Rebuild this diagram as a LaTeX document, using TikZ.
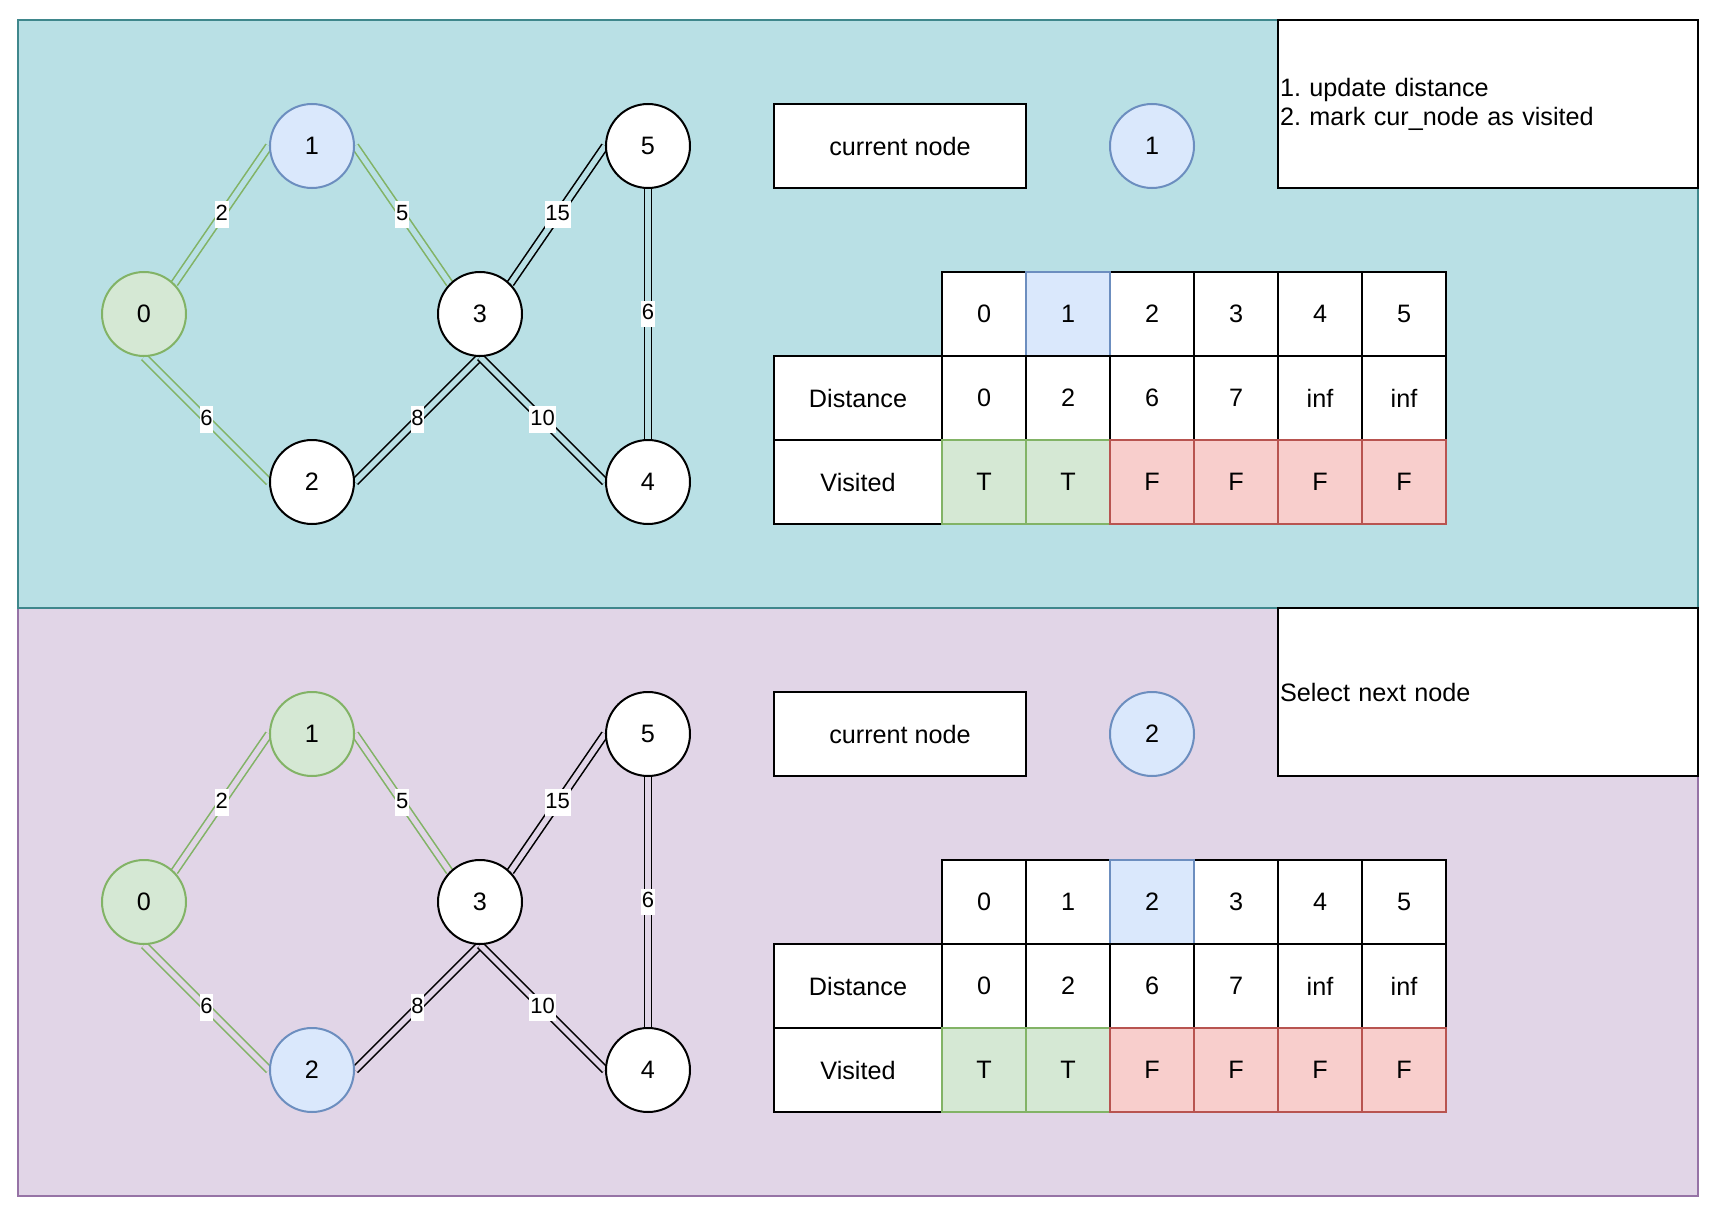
\documentclass[tikz,border=0pt]{standalone}
\usepackage{fontspec}
\setmainfont{Liberation Sans}
\frenchspacing

\definecolor{tealfill}{HTML}{B9E0E5}
\definecolor{tealline}{HTML}{3F878C}
\definecolor{lilacfill}{HTML}{E1D5E7}
\definecolor{lilacline}{HTML}{9673A6}
\definecolor{bluefill}{HTML}{DAE8FC}
\definecolor{blueline}{HTML}{6C8EBF}
\definecolor{greenfill}{HTML}{D5E8D4}
\definecolor{greenline}{HTML}{82B366}
\definecolor{redfill}{HTML}{F8CECC}
\definecolor{redline}{HTML}{B85450}

\pgfdeclarelayer{panels}
\pgfdeclarelayer{links}
\pgfsetlayers{panels,links,main}

\tikzset{
  txt/.style={font=\fontsize{12.6}{14.4}\selectfont},
  vertex/.style={txt, circle, draw=black, fill=white, line width=1pt,
    minimum size=42pt, inner sep=0pt},
  vgreen/.style={vertex, draw=greenline, fill=greenfill},
  vblue/.style={vertex, draw=blueline, fill=bluefill},
  labelbox/.style={txt, rectangle, draw=black, fill=white, line width=1pt,
    minimum width=126pt, minimum height=42pt, inner sep=0pt},
  notebox/.style={txt, rectangle, draw=black, fill=white, line width=1pt,
    minimum width=210pt, minimum height=84pt, text width=208pt,
    align=left, inner xsep=1pt, inner ysep=0pt},
  cell/.style={txt, rectangle, draw=black, fill=white, line width=1pt,
    minimum size=42pt, inner sep=0pt},
  widecell/.style={cell, minimum width=84pt},
  cblue/.style={cell, draw=blueline, fill=bluefill},
  cgreen/.style={cell, draw=greenline, fill=greenfill},
  cred/.style={cell, draw=redline, fill=redfill},
  klink/.style={draw=black, line width=0.8pt, double=#1, double distance=2.7pt},
  glink/.style={klink=#1, draw=greenline},
  elab/.style={fill=white, font=\fontsize{11}{12}\selectfont,
    inner xsep=0.4pt, inner ysep=1.2pt, text height=8.4pt, text depth=2.6pt},
}

\begin{document}
\begin{tikzpicture}[x=0.525pt, y=-0.525pt]
\useasboundingbox (-17.143,-19.048) rectangle (1624.762,1139.048);

% backgrounds of the two steps
\begin{pgfonlayer}{panels}
  \draw[draw=lilacline, fill=lilacfill, line width=1pt] (0,560) rectangle (1600,1120);
  \draw[draw=tealline, fill=tealfill, line width=1pt] (0,0) rectangle (1600,560);
\end{pgfonlayer}

% ---------- step 1: update distances ----------
\node[vgreen] (a0) at (120,280) {0};
\node[vblue]  (a1) at (280,120) {1};
\node[vertex] (a2) at (280,440) {2};
\node[vertex] (a3) at (440,280) {3};
\node[vertex] (a4) at (600,440) {4};
\node[vertex] (a5) at (600,120) {5};

\begin{pgfonlayer}{links}
  \draw[glink=tealfill] (a0.north east) -- node[elab] {2} (a1.west);
  \draw[glink=tealfill] (a1.east) -- node[elab] {5} (a3.north west);
  \draw[glink=tealfill] (a0.south) -- node[elab] {6} (a2.west);
  \draw[klink=tealfill] (a3.north east) -- node[elab] {15} (a5.west);
  \draw[klink=tealfill] (a5.south) -- node[elab] {6} (a4.north);
  \draw[klink=tealfill] (a2.east) -- node[elab] {8} (a3.south);
  \draw[klink=tealfill] (a3.south) -- node[elab] {10} (a4.west);
\end{pgfonlayer}

\node[labelbox] (acur) at (840,120) {current node};
\node[vblue] (acurv) at (1080,120) {1};
\node[notebox] (anote) at (1400,80) {1. update distance\\2. mark cur\_node as visited};

% table
\node[cell] (ah0) at (920,280) {0};
\node[cell] (ah2) at (1080,280) {2};
\node[cell] (ah3) at (1160,280) {3};
\node[cell] (ah4) at (1240,280) {4};
\node[cell] (ah5) at (1320,280) {5};
\node[cblue] (ah1) at (1000,280) {1};
\node[widecell] (adl) at (800,360) {Distance};
\node[cell] (ad0) at (920,360) {0};
\node[cell] (ad1) at (1000,360) {2};
\node[cell] (ad2) at (1080,360) {6};
\node[cell] (ad3) at (1160,360) {7};
\node[cell] (ad4) at (1240,360) {inf};
\node[cell] (ad5) at (1320,360) {inf};
\node[widecell] (avl) at (800,440) {Visited};
\node[cgreen] (av0) at (920,440) {T};
\node[cgreen] (av1) at (1000,440) {T};
\node[cred] (av2) at (1080,440) {F};
\node[cred] (av3) at (1160,440) {F};
\node[cred] (av4) at (1240,440) {F};
\node[cred] (av5) at (1320,440) {F};

% ---------- step 2: select next node ----------
\node[vgreen] (b0) at (120,840) {0};
\node[vgreen] (b1) at (280,680) {1};
\node[vblue]  (b2) at (280,1000) {2};
\node[vertex] (b3) at (440,840) {3};
\node[vertex] (b4) at (600,1000) {4};
\node[vertex] (b5) at (600,680) {5};

\begin{pgfonlayer}{links}
  \draw[glink=lilacfill] (b0.north east) -- node[elab] {2} (b1.west);
  \draw[glink=lilacfill] (b1.east) -- node[elab] {5} (b3.north west);
  \draw[glink=lilacfill] (b0.south) -- node[elab] {6} (b2.west);
  \draw[klink=lilacfill] (b3.north east) -- node[elab] {15} (b5.west);
  \draw[klink=lilacfill] (b5.south) -- node[elab] {6} (b4.north);
  \draw[klink=lilacfill] (b2.east) -- node[elab] {8} (b3.south);
  \draw[klink=lilacfill] (b3.south) -- node[elab] {10} (b4.west);
\end{pgfonlayer}

\node[labelbox] (bcur) at (840,680) {current node};
\node[vblue] (bcurv) at (1080,680) {2};
\node[notebox] (bnote) at (1400,640) {Select next node};

% table
\node[cell] (bh0) at (920,840) {0};
\node[cell] (bh1) at (1000,840) {1};
\node[cell] (bh3) at (1160,840) {3};
\node[cell] (bh4) at (1240,840) {4};
\node[cell] (bh5) at (1320,840) {5};
\node[cblue] (bh2) at (1080,840) {2};
\node[widecell] (bdl) at (800,920) {Distance};
\node[cell] (bd0) at (920,920) {0};
\node[cell] (bd1) at (1000,920) {2};
\node[cell] (bd2) at (1080,920) {6};
\node[cell] (bd3) at (1160,920) {7};
\node[cell] (bd4) at (1240,920) {inf};
\node[cell] (bd5) at (1320,920) {inf};
\node[widecell] (bvl) at (800,1000) {Visited};
\node[cgreen] (bv0) at (920,1000) {T};
\node[cgreen] (bv1) at (1000,1000) {T};
\node[cred] (bv2) at (1080,1000) {F};
\node[cred] (bv3) at (1160,1000) {F};
\node[cred] (bv4) at (1240,1000) {F};
\node[cred] (bv5) at (1320,1000) {F};
\end{tikzpicture}
\end{document}
